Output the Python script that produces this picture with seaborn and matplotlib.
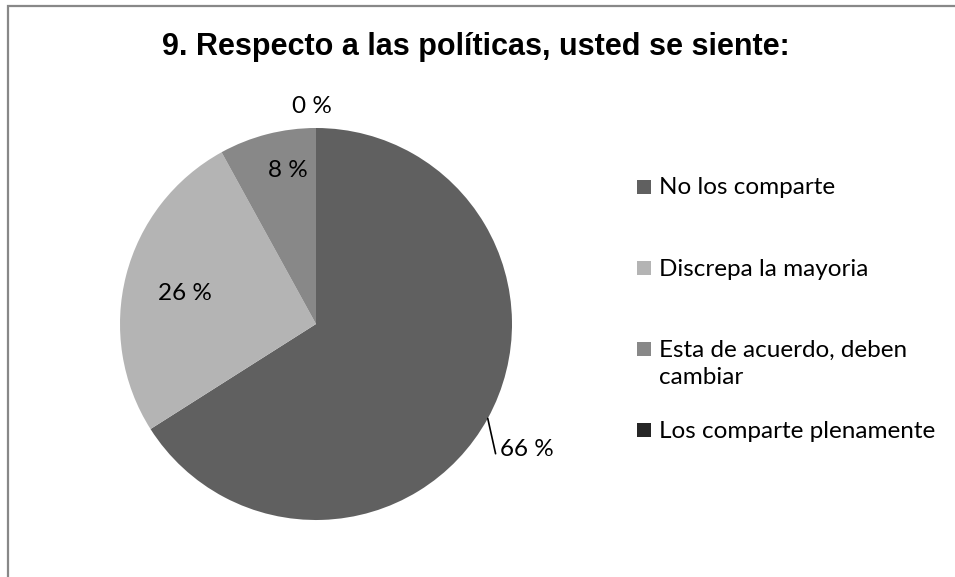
import numpy as np
import matplotlib
matplotlib.use("Agg")
import matplotlib.pyplot as plt
from matplotlib.patches import Rectangle
import seaborn as sns

# Survey answers for question 9
categories = ["No los comparte", "Discrepa la mayoria",
              "Esta de acuerdo, deben\ncambiar", "Los comparte plenamente"]
percentages = [66, 26, 8, 0]
slice_colors = ["#606060", "#b4b4b4", "#888888", "#262626"]
title = "9. Respecto a las políticas, usted se siente:"

sns.set_theme(style="white")
plt.rcParams["font.family"] = ["Lato", "DejaVu Sans"]
plt.rcParams["text.color"] = "black"

W, H = 955, 577
fig = plt.figure(figsize=(W / 100, H / 100), dpi=100)
fig.patch.set_facecolor("white")

# chart border (top and left edges are visible inside the canvas)
fig.add_artist(Rectangle((8 / W, -0.1), 1.2, 1 - 6 / H + 0.1,
                         transform=fig.transFigure, fill=False,
                         edgecolor="#888888", linewidth=1.6))

fig.text(476 / W, 1 - 47 / H, title, ha="center", va="center",
         fontsize=22, fontweight="bold", family=["Liberation Sans"])

# pie axes: center (316, 324) px, radius 196 px
cx, cy, r = 316, 324, 196
ax = fig.add_axes([(cx - r) / W, (H - cy - r) / H, 2 * r / W, 2 * r / H])
wedges, _ = ax.pie(percentages, colors=slice_colors, startangle=90,
                   counterclock=False, radius=1.0,
                   wedgeprops=dict(linewidth=0))
ax.set_xlim(-1, 1)
ax.set_ylim(-1, 1)
ax.axis("off")

label_fs = 17.5
bounds = np.cumsum([0] + percentages)
for i, p in enumerate(percentages):
    mid = np.deg2rad(90 - 3.6 * (bounds[i] + bounds[i + 1]) / 2)
    txt = f"{p} %"
    if i == 0:
        x0, y0 = np.cos(mid), np.sin(mid)
        ax.plot([x0, x0 + 0.04], [y0, y0 - 0.18], color="black", lw=1.2,
                clip_on=False)
        ax.text(x0 + 0.06, y0 - 0.16, txt, ha="left", va="center",
                fontsize=label_fs)
    elif i == 1:
        ax.text(0.70 * np.cos(mid) + 0.01, 0.69 * np.sin(mid) - 0.015, txt,
                ha="center", va="center", fontsize=label_fs)
    elif i == 2:
        ax.text(0.81 * np.cos(mid) + 0.06, 0.81 * np.sin(mid), txt,
                ha="center", va="center", fontsize=label_fs)
    else:
        ax.text(-0.02, 1.11, txt, ha="center", va="center",
                fontsize=label_fs)

# legend: square marker plus label, wrapped labels continue below
rows_y = [187, 268, 349, 430]
line_gap = 27
for lab, col, yy in zip(categories, slice_colors, rows_y):
    fig.add_artist(Rectangle((637 / W, 1 - (yy + 7) / H), 14 / W, 14 / H,
                             transform=fig.transFigure, color=col,
                             linewidth=0))
    for k, part in enumerate(lab.split("\n")):
        fig.text(659 / W, 1 - (yy + 1 + k * line_gap) / H, part, ha="left",
                 va="center", fontsize=label_fs)

fig.savefig("out.png", dpi=100, facecolor="white")
